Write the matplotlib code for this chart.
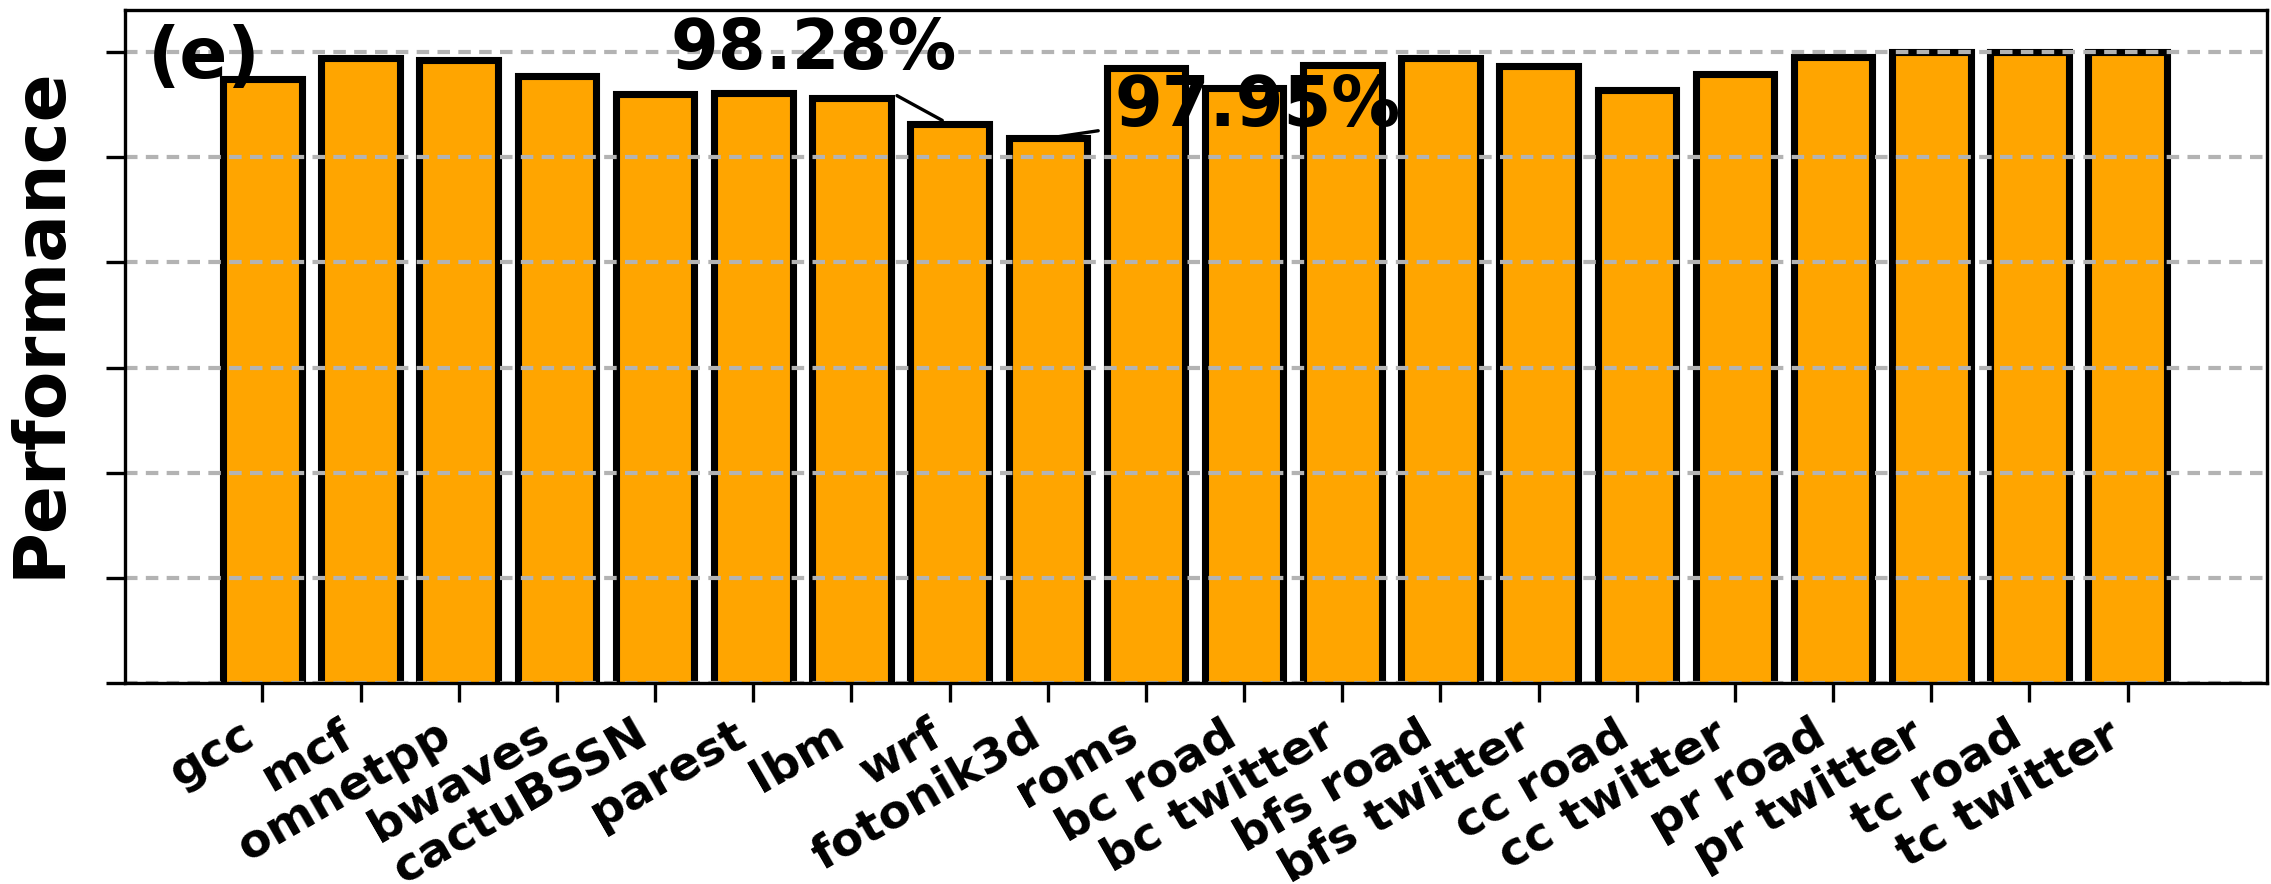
import matplotlib
matplotlib.use("Agg")
import matplotlib.pyplot as plt
import numpy as np

categories = ['gcc', 'mcf', 'omnetpp', 'bwaves', 'cactuBSSN', 'parest', 'lbm',
              'wrf', 'fotonik3d', 'roms', 'bc road', 'bc twitter', 'bfs road',
              'bfs twitter', 'cc road', 'cc twitter', 'pr road', 'pr twitter',
              'tc road', 'tc twitter']
values = [99.36, 99.85, 99.82, 99.44, 99.01, 99.03, 98.91, 98.28, 97.95, 99.61,
          99.15, 99.69, 99.86, 99.66, 99.11, 99.48, 99.88, 99.99, 99.99, 99.99]
yticks = [85, 87.5, 90, 92.5, 95, 97.5, 100]
ann_wrf = ('98.28%', 7, 98.28)
ann_fot = ('97.95%', 8, 97.95)

plt.rcParams['font.family'] = ['DejaVu Sans']

fig = plt.figure(figsize=(2271/300, 884/300), dpi=300)
ax = fig.add_axes([0.05504, 0.22738, 0.9432, 0.7613])

x = np.arange(len(categories))
ax.bar(x, values, width=0.8, color='orange', edgecolor='black', linewidth=1.7)

ax.set_ylim(85, 101)
ax.set_xlim(-1.4, 20.42)
ax.set_yticks(yticks)
ax.set_yticklabels([])
ax.yaxis.grid(True, color='#b3b3b3', linestyle=(0, (3, 2)), linewidth=1.0)
ax.set_xticks(x)
ax.set_xticklabels(categories, rotation=30, ha='right', fontsize=11.3, fontweight='bold')
ax.tick_params(axis='both', length=4.5, width=0.8)
ax.tick_params(axis='x', pad=2.5)

ax.set_ylabel('Performance', fontsize=17, fontweight='bold')
ax.yaxis.set_label_coords(-0.0235, 0.536)

ax.text(0.0105, 0.899, '(e)', transform=ax.transAxes, fontsize=17,
        fontweight='bold', va='baseline', ha='left')

ax.annotate(ann_wrf[0], xy=(ann_wrf[1], ann_wrf[2]), xytext=(5.61, 99.59),
            fontsize=16.5, fontweight='bold', ha='center', va='baseline',
            arrowprops=dict(arrowstyle='-', color='black', lw=0.8))
ax.annotate(ann_fot[0], xy=(ann_fot[1], ann_fot[2]), xytext=(10.14, 98.234),
            fontsize=16.5, fontweight='bold', ha='center', va='baseline',
            arrowprops=dict(arrowstyle='-', color='black', lw=0.8))

fig.savefig('out.png', dpi=300)
